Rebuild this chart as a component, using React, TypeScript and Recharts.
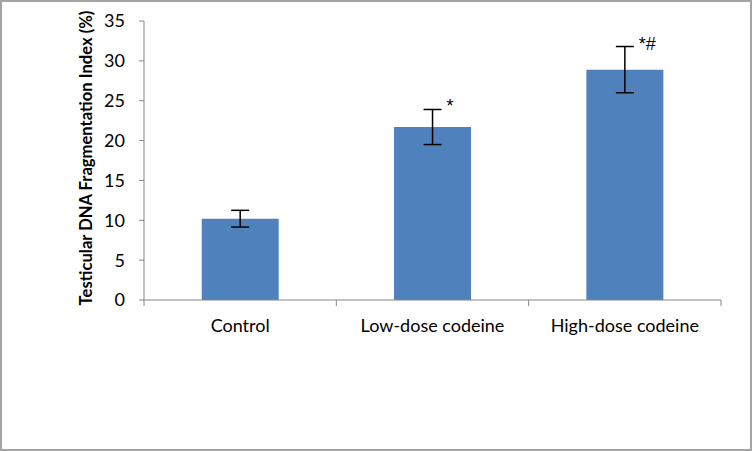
import { Bar, BarChart, ErrorBar, LabelList, XAxis, YAxis } from "recharts"

const groups = ["Control", "Low-dose codeine", "High-dose codeine"]
const dfi = [10.2, 21.7, 28.9]
const dfiErr = [1.05, 2.2, 2.9]
const marks = ["", "*", "*#"]
const yTicks = [0, 5, 10, 15, 20, 25, 30, 35]

const data = groups.map((name, i) => ({ name, dfi: dfi[i], err: dfiErr[i], mark: marks[i] }))

const font = "Lato, 'Open Sans', sans-serif"
const axisGray = "#868686"

function MarkLabel(props: any) {
    const { x, y, width, height, index, value } = props
    if (!value) return null
    // put the mark just above the top of the error bar, right of it
    const errTop = y - (dfiErr[index] * height) / dfi[index]
    return (
        <text x={x + width / 2 + 14} y={errTop + 3} fontSize={18} fontFamily="'Liberation Sans', sans-serif" fill="#000">
            {value}
        </text>
    )
}

// category label plus tick marks on the boundaries between categories (Excel style)
function GroupTick(props: any) {
    const { x, y, payload, index } = props
    const half = payload.offset ?? 0
    const axisY = y - 19
    return (
        <g>
            {index === 0 && <line x1={x - half} x2={x - half} y1={axisY} y2={axisY + 6} stroke={axisGray} />}
            <line x1={x + half} x2={x + half} y1={axisY} y2={axisY + 6} stroke={axisGray} />
            <text x={x} y={y} dy="0.71em" textAnchor="middle" fontSize={18} fontFamily={font} fill="#000">
                {payload.value}
            </text>
        </g>
    )
}

function YTitle() {
    return (
        <text
            x={88}
            y={158}
            transform="rotate(-90 88 158)"
            textAnchor="middle"
            dominantBaseline="middle"
            fontSize={16.6}
            fontWeight="bold"
            fontFamily={font}
            fill="#000"
        >
            Testicular DNA Fragmentation Index (%)
        </text>
    )
}

export default function App() {
    return (
        <div style={{ position: "absolute", left: 0, top: 0, width: 752, height: 451, background: "#fff" }}>
            <BarChart
                width={752}
                height={451}
                data={data}
                margin={{ top: 21, right: 31, left: 0, bottom: 121 }}
                barCategoryGap="30%"
            >
                <XAxis
                    dataKey="name"
                    height={30}
                    axisLine={{ stroke: axisGray }}
                    tickLine={false}
                    tickSize={0}
                    tickMargin={19}
                    tick={<GroupTick />}
                />
                <YAxis
                    width={144}
                    domain={[0, 35]}
                    ticks={yTicks}
                    interval={0}
                    axisLine={{ stroke: axisGray }}
                    tickLine={{ stroke: axisGray }}
                    tickSize={5}
                    tickMargin={14}
                    tick={{ fontSize: 18, fontFamily: font, fill: "#000" }}
                    label={{ content: () => <YTitle /> }}
                />
                <Bar dataKey="dfi" fill="#4F81BD" isAnimationActive={false}>
                    <ErrorBar dataKey="err" width={9} stroke="#000" strokeWidth={1.5} />
                    <LabelList dataKey="mark" content={MarkLabel} />
                </Bar>
            </BarChart>
            <div
                style={{
                    position: "absolute",
                    inset: 0,
                    border: "2px solid #a3a3a3",
                    boxSizing: "border-box",
                    pointerEvents: "none",
                }}
            />
        </div>
    )
}
